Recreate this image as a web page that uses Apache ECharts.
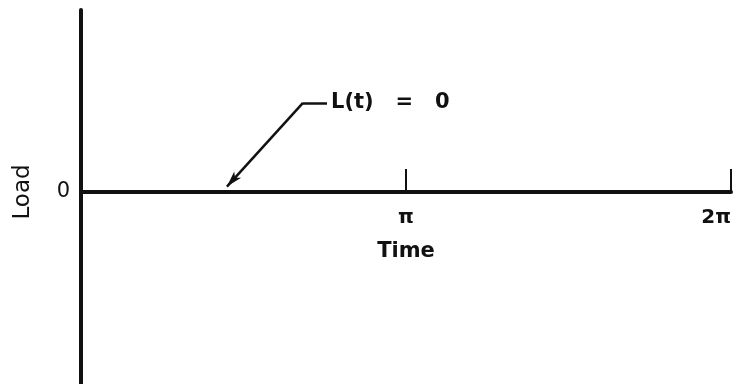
<!DOCTYPE html>
<html>
<head>
<meta charset="utf-8">
<script src="https://cdn.jsdelivr.net/npm/echarts@6/dist/echarts.min.js"></script>
<style>
  html, body { margin: 0; padding: 0; background: #fff; }
  #chart { width: 743px; height: 384px; }
</style>
</head>
<body>
<div id="chart"></div>
<script>
// time in units of pi
var timeTicks = [0, 1, 2];
var timeLabels = ['', '\u03c0', '2\u03c0'];
// L(t) = 0 over one period
var loadTime = [0, 2];
var loadValues = [0, 0];
var loadMin = -1.055;
var loadMax = 1;

// annotation arrow (data coords), just a pointer to the line
var arrowTip = [0.449, 0.03];
var arrowBend = [0.683, 0.49];
var arrowEnd = [0.757, 0.49];

var font = '"DejaVu Sans", "Liberation Sans", sans-serif';

var gridTop = 10, gridBottom = 0, H = 384;
// pixel distance from the grid bottom up to the zero line
var zeroOffset = (H - gridTop - gridBottom) * (-loadMin) / (loadMax - loadMin);

var chart = echarts.init(document.getElementById('chart'));

var seriesData = [];
for (var i = 0; i < loadTime.length; i++) {
  seriesData.push([loadTime[i], loadValues[i]]);
}

chart.setOption({
  animation: false,
  backgroundColor: '#fff',
  grid: { left: 81, right: 12, top: gridTop, bottom: gridBottom, outerBoundsMode: 'none', containLabel: false },
  xAxis: {
    type: 'value',
    min: 0,
    max: 2,
    interval: 1,
    offset: -zeroOffset,
    name: 'Time',
    nameLocation: 'middle',
    nameGap: 49,
    nameTextStyle: { fontFamily: font, fontSize: 21, color: '#111', fontWeight: 'bold' },
    axisLine: { show: true, onZero: false, lineStyle: { color: '#111', width: 4 } },
    axisTick: { show: true, inside: true, length: 23, lineStyle: { color: '#111', width: 2 } },
    splitLine: { show: false },
    axisLabel: {
      margin: 16,
      fontFamily: font,
      fontSize: 20,
      fontWeight: 'bold',
      color: '#111',
      alignMaxLabel: 'right',
      formatter: function (v) {
        var idx = timeTicks.indexOf(Math.round(v));
        return idx >= 0 ? timeLabels[idx] : '';
      }
    }
  },
  yAxis: {
    type: 'value',
    min: loadMin,
    max: loadMax,
    name: 'Load',
    nameLocation: 'middle',
    nameGap: 46,
    nameTextStyle: { fontFamily: font, fontSize: 23, color: '#111', padding: [0, 0, 0, 10] },
    axisLine: { show: true, lineStyle: { color: '#111', width: 4 } },
    axisTick: { show: false },
    splitLine: { show: false },
    axisLabel: {
      margin: 11,
      fontFamily: font,
      fontSize: 21,
      color: '#111',
      formatter: function (v) { return v === 0 ? '0' : ''; }
    }
  },
  series: [{
    type: 'line',
    data: seriesData,
    symbol: 'none',
    lineStyle: { color: '#111', width: 4 },
    markLine: {
      silent: true,
      symbol: 'none',
      lineStyle: { color: '#111', width: 2.5, type: 'solid' },
      label: { show: false },
      data: [
        [
          { coord: arrowBend, symbol: 'none' },
          { coord: arrowTip, symbol: 'arrow', symbolSize: [7, 16] }
        ],
        [
          { coord: arrowBend, symbol: 'none' },
          {
            coord: arrowEnd,
            symbol: 'none',
            label: {
              show: true,
              position: 'end',
              distance: 4,
              padding: [5, 0, 0, 0],
              formatter: 'L(t)   =   0',
              fontFamily: font,
              fontSize: 21,
              fontWeight: 'bold',
              color: '#111'
            }
          }
        ]
      ]
    }
  }]
});
</script>
</body>
</html>
